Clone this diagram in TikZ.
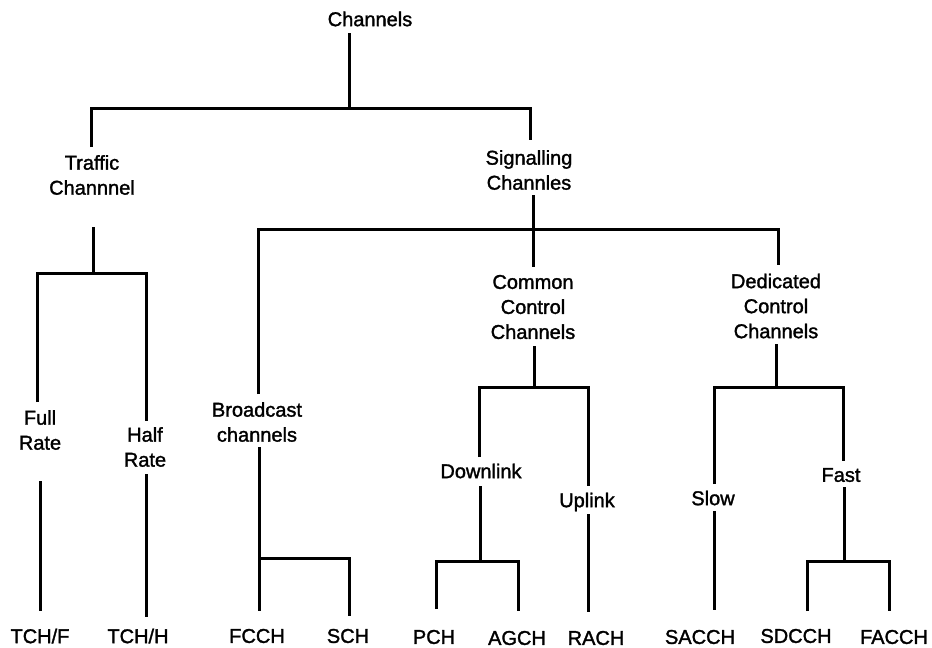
\documentclass[tikz,border=0pt]{standalone}
\usepackage{fontspec}
\setmainfont{Liberation Sans}[FakeBold=1.5]
\begin{document}
\begin{tikzpicture}[x=1pt,y=-1pt,
  lbl/.style={align=center,font=\fontsize{20}{25}\selectfont,inner sep=0pt},
  wire/.style={line width=3pt,line join=miter}]
\useasboundingbox[fill=white] (0,0) rectangle (932,648);
% labels
\node[lbl] (root) at (370,19) {Channels};
\node[lbl] (traffic) at (92,175) {Traffic\\Channnel};
\node[lbl] (sig) at (529,170) {Signalling\\Channles};
\node[lbl] (common) at (533,307) {Common\\Control\\Channels};
\node[lbl] (ded) at (776,306) {Dedicated\\Control\\Channels};
\node[lbl] (full) at (40,430) {Full\\Rate};
\node[lbl] (half) at (145,447) {Half\\Rate};
\node[lbl] (bc) at (257,422) {Broadcast\\channels};
\node[lbl] (down) at (481,471) {Downlink};
\node[lbl] (up) at (587,502) {Uplink};
\node[lbl] (slow) at (713,498) {Slow};
\node[lbl] (fast) at (841,475) {Fast};
\node[lbl] (tchf) at (40,636) {TCH/F};
\node[lbl] (tchh) at (138,636) {TCH/H};
\node[lbl] (fcch) at (257,636) {FCCH};
\node[lbl] (sch) at (348,636) {SCH};
\node[lbl] (pch) at (434,637) {PCH};
\node[lbl] (agch) at (517,638) {AGCH};
\node[lbl] (rach) at (596,638) {RACH};
\node[lbl] (sacch) at (700,637) {SACCH};
\node[lbl] (sdcch) at (796,636) {SDCCH};
\node[lbl] (facch) at (894,637) {FACCH};
% connector end points
\coordinate (rootT) at (349,33);
\coordinate (busA) at (349,108);
\coordinate (trafT) at (91,147);
\coordinate (sigT) at (530,140);
\coordinate (trafB) at (93,227);
\coordinate (busB) at (93,273);
\coordinate (fullT) at (37,402);
\coordinate (halfT) at (146,421);
\coordinate (fullB) at (40,481);
\coordinate (tchfT) at (40,611);
\coordinate (halfB) at (146,474);
\coordinate (tchhT) at (146,617);
\coordinate (sigB) at (533,195);
\coordinate (busC) at (533,229);
\coordinate (bcT) at (258,394);
\coordinate (comT) at (533,267);
\coordinate (dedT) at (778,265);
\coordinate (bcB) at (259,447);
\coordinate (fcchT) at (259,611);
\coordinate (busD) at (259,558);
\coordinate (schT) at (349,616);
\coordinate (comB) at (534,346);
\coordinate (busE) at (534,387);
\coordinate (downT) at (479,457);
\coordinate (upT) at (588,486);
\coordinate (downB) at (480,486);
\coordinate (busF) at (480,561);
\coordinate (pchT) at (436,609);
\coordinate (agchT) at (518,611);
\coordinate (upB) at (588,514);
\coordinate (rachT) at (588,612);
\coordinate (dedB) at (776,344);
\coordinate (busG) at (776,387);
\coordinate (slowT) at (714,484);
\coordinate (fastT) at (843,461);
\coordinate (slowB) at (714,511);
\coordinate (sacchT) at (714,610);
\coordinate (fastB) at (844,487);
\coordinate (busH) at (844,561);
\coordinate (sdcchT) at (807,611);
\coordinate (facchT) at (889,611);
% connectors
\draw[wire] (rootT) -- (busA);
\draw[wire] (trafT) -- (trafT |- busA) -- (sigT |- busA) -- (sigT);
\draw[wire] (trafB) -- (busB);
\draw[wire] (fullT) -- (fullT |- busB) -- (halfT |- busB) -- (halfT);
\draw[wire] (fullB) -- (tchfT);
\draw[wire] (halfB) -- (tchhT);
\draw[wire] (sigB) -- (busC);
\draw[wire] (bcT) -- (bcT |- busC) -- (dedT |- busC) -- (dedT);
\draw[wire] (busC) -- (comT);
\draw[wire] (bcB) -- (fcchT);
\draw[wire] (busD) -- (schT |- busD) -- (schT);
\draw[wire] (comB) -- (busE);
\draw[wire] (downT) -- (downT |- busE) -- (upT |- busE) -- (upT);
\draw[wire] (downB) -- (busF);
\draw[wire] (pchT) -- (pchT |- busF) -- (agchT |- busF) -- (agchT);
\draw[wire] (upB) -- (rachT);
\draw[wire] (dedB) -- (busG);
\draw[wire] (slowT) -- (slowT |- busG) -- (fastT |- busG) -- (fastT);
\draw[wire] (slowB) -- (sacchT);
\draw[wire] (fastB) -- (busH);
\draw[wire] (sdcchT) -- (sdcchT |- busH) -- (facchT |- busH) -- (facchT);
\end{tikzpicture}
\end{document}
